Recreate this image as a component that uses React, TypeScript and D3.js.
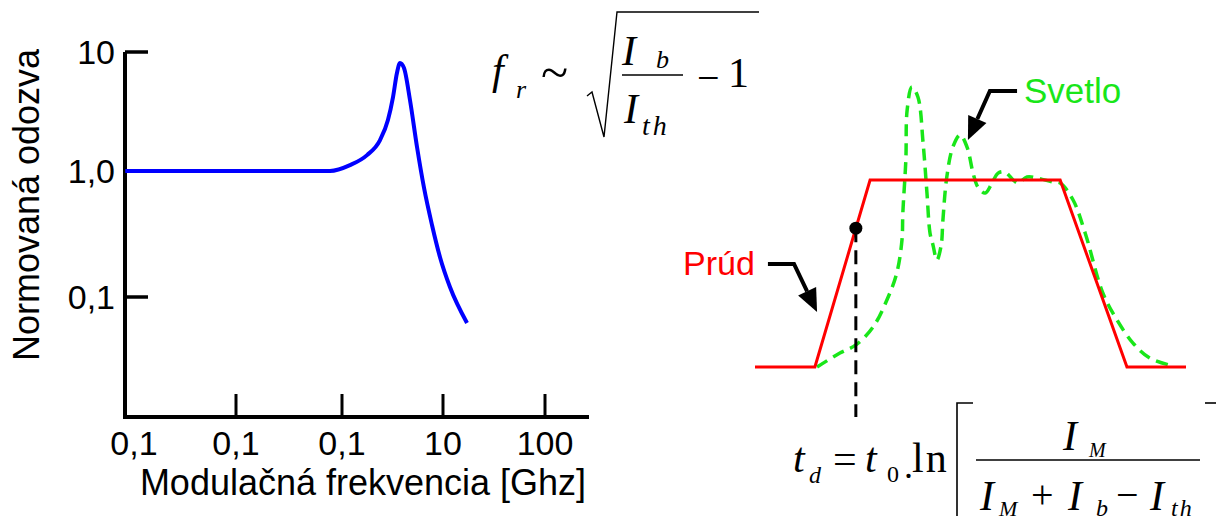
import React, { useEffect, useRef } from 'react';
import * as d3 from 'd3';

// left plot: normalised modulation response (log / log)
const respFreq = [0.0082, 0.03, 0.1, 0.35, 0.77, 1.2, 1.77, 2.38, 2.85, 3.2, 3.5, 3.75, 4.11, 4.71, 5.53, 6.49, 7.78, 9.34, 11.7, 17.2];
const respVal = [1, 1, 1, 1, 1, 1.12, 1.36, 1.82, 2.68, 4.18, 6.66, 8.09, 7.34, 3.95, 1.59, 0.733, 0.373, 0.207, 0.12, 0.0622];
const yTickVals = [10, 1, 0.1];
const yTickLabels = ['10', '1,0', '0,1'];
const xTickVals = [0.1, 1, 10, 100];
const xLabelVals = [0.01, 0.1, 1, 10, 100];
const xLabels = ['0,1', '0,1', '0,1', '10', '100'];

// right plot: current pulse and light response (arbitrary units)
const currentT = [0, 13.9, 26.7, 70.8, 86.3, 100];
const currentL = [0, 0, 1, 1, 0, 0];
const lightT = [14.4, 19.7, 23.4, 27.4, 30.6, 32.9, 34.1, 34.3, 35.0, 35.3, 36.4, 37.8, 39.0, 39.9, 40.6, 41.3, 42.2, 43.2, 43.6, 44.5, 45.9, 47.6, 49.2, 50.6, 51.7, 53.4, 55.0, 56.4, 58.0, 59.9, 61.0, 63.1, 65.4, 69.1, 70.8, 73.8, 76.6, 80.7, 84.0, 87.7, 91.6, 97.0];
const lightL = [0, 0.075, 0.118, 0.214, 0.358, 0.503, 0.679, 0.824, 1.107, 1.374, 1.497, 1.444, 1.198, 0.93, 0.717, 0.652, 0.572, 0.652, 0.786, 1.016, 1.176, 1.241, 1.176, 1.037, 0.963, 0.93, 0.984, 1.037, 1.043, 1.0, 0.984, 1.016, 1.011, 0.989, 0.984, 0.893, 0.717, 0.396, 0.251, 0.128, 0.048, 0.005];
const delayT = 23.4;
const svetloArrowT = [60.8, 54.5, 49.4];
const svetloArrowL = [1.476, 1.476, 1.214];
const prudArrowT = [3.0, 9.05, 14.4];
const prudArrowL = [0.551, 0.551, 0.294];

const SANS = '"Liberation Sans", Arial, sans-serif';
const SERIF = '"Liberation Serif", "Times New Roman", serif';
const GREEN = '#19e619';

const App = () => {
    const ref = useRef(null);

    useEffect(() => {
        const svg = d3.select(ref.current);
        svg.selectAll('*').remove();

        //---------------- left chart ----------------
        const x = d3.scaleLog().domain([0.01, 0.1, 1, 10, 100]).range([134, 236, 342, 443, 545]);
        const y = d3.scaleLog().domain([0.1, 1, 10]).range([297, 171, 52]);
        const x0 = 125, xEnd = 589, yBottom = 417;

        const left = svg.append('g');

        // axis lines
        left.append('path')
            .attr('d', `M${x0},${y(10)}V${yBottom}H${xEnd}`)
            .attr('fill', 'none').attr('stroke', '#000').attr('stroke-width', 4)
            .attr('stroke-linejoin', 'miter');

        // y ticks (pointing inwards)
        left.selectAll('.yt').data(yTickVals).enter().append('line')
            .attr('x1', x0).attr('x2', x0 + 23)
            .attr('y1', d => y(d)).attr('y2', d => y(d))
            .attr('stroke', '#000').attr('stroke-width', 3.5);
        left.selectAll('.yl').data(yTickVals).enter().append('text')
            .attr('x', x0 - 10).attr('y', d => y(d)).attr('dy', '0.36em')
            .attr('text-anchor', 'end')
            .style('font-family', SANS).style('font-size', '34px')
            .text((d, i) => yTickLabels[i]);

        // x ticks (pointing up)
        left.selectAll('.xt').data(xTickVals).enter().append('line')
            .attr('x1', d => x(d)).attr('x2', d => x(d))
            .attr('y1', yBottom).attr('y2', yBottom - 23)
            .attr('stroke', '#000').attr('stroke-width', 3);
        left.selectAll('.xl').data(xLabelVals).enter().append('text')
            .attr('x', d => x(d)).attr('y', 455)
            .attr('text-anchor', 'middle')
            .style('font-family', SANS).style('font-size', '34px')
            .text((d, i) => xLabels[i]);

        // axis titles
        left.append('text')
            .attr('x', 363).attr('y', 495).attr('text-anchor', 'middle')
            .style('font-family', SANS).style('font-size', '36px')
            .text('Modulačná frekvencia [Ghz]');
        left.append('text')
            .attr('transform', 'translate(39,205) rotate(-90)')
            .attr('text-anchor', 'middle')
            .style('font-family', SANS).style('font-size', '36px')
            .text('Normovaná odozva');

        // response curve
        const line = d3.line().x(d => x(d[0])).y(d => y(d[1])).curve(d3.curveMonotoneX);
        left.append('path')
            .datum(respFreq.map((f, i) => [f, respVal[i]]))
            .attr('d', line)
            .attr('fill', 'none').attr('stroke', '#0000ff').attr('stroke-width', 4);

        //---------------- right chart ----------------
        const t = d3.scaleLinear().domain([0, 100]).range([755, 1186]);
        const l = d3.scaleLinear().domain([0, 1]).range([367, 180]);
        const right = svg.append('g');
        const lineR = d3.line().x(d => t(d[0])).y(d => l(d[1]));

        // light (dashed green)
        right.append('path')
            .datum(lightT.map((v, i) => [v, lightL[i]]))
            .attr('d', lineR.curve(d3.curveCatmullRom.alpha(0.5)))
            .attr('fill', 'none').attr('stroke', GREEN).attr('stroke-width', 3.5)
            .attr('stroke-dasharray', '12,7');

        // current (red)
        right.append('path')
            .datum(currentT.map((v, i) => [v, currentL[i]]))
            .attr('d', d3.line().x(d => t(d[0])).y(d => l(d[1])))
            .attr('fill', 'none').attr('stroke', '#ff0000').attr('stroke-width', 3);

        // delay marker
        const delayL = d3.scaleLinear().domain([currentT[1], currentT[2]]).range([currentL[1], currentL[2]])(delayT);
        right.append('line')
            .attr('x1', t(delayT)).attr('x2', t(delayT))
            .attr('y1', l(delayL)).attr('y2', 417)
            .attr('stroke', '#000').attr('stroke-width', 3).attr('stroke-dasharray', '14,8');
        right.append('circle')
            .attr('cx', t(delayT)).attr('cy', l(delayL)).attr('r', 6.5).attr('fill', '#000');

        // arrows
        const arrow = (ts, ls) => {
            const pts = ts.map((v, i) => [t(v), l(ls[i])]);
            const [bx, by] = pts[pts.length - 2];
            const [tx, ty] = pts[pts.length - 1];
            const len = Math.hypot(tx - bx, ty - by);
            const ux = (tx - bx) / len, uy = (ty - by) / len;
            const hl = 23, hw = 10;
            const cx = tx - ux * hl, cy = ty - uy * hl;
            right.append('path')
                .attr('d', d3.line()(pts.slice(0, -1).concat([[cx, cy]])))
                .attr('fill', 'none').attr('stroke', '#000').attr('stroke-width', 4);
            right.append('path')
                .attr('d', `M${tx},${ty}L${cx - uy * hw},${cy + ux * hw}L${cx + uy * hw},${cy - ux * hw}Z`)
                .attr('fill', '#000');
        };
        arrow(svetloArrowT, svetloArrowL);
        arrow(prudArrowT, prudArrowL);

        right.append('text')
            .attr('x', 1024).attr('y', 103)
            .style('font-family', SANS).style('font-size', '35px').attr('fill', GREEN)
            .text('Svetlo');
        right.append('text')
            .attr('x', 683).attr('y', 275)
            .style('font-family', SANS).style('font-size', '34px').attr('fill', '#ff0000')
            .text('Prúd');

        //---------------- formulas ----------------
        const f = svg.append('g').style('font-family', SERIF).attr('fill', '#000');
        const tx = (xx, yy, s, size, italic = true) =>
            f.append('text').attr('x', xx).attr('y', yy)
                .style('font-size', size + 'px').style('font-style', italic ? 'italic' : 'normal')
                .text(s);

        // f_r ~ sqrt(I_b / I_th - 1)
        tx(492, 84, 'f', 42);
        tx(516, 98, 'r', 26);
        tx(541, 89, '~', 50, false);
        f.append('path').attr('d', 'M587,96L592,92L604,137L617,12H759')
            .attr('fill', 'none').attr('stroke', '#000').attr('stroke-width', 1.4);
        tx(622, 65, 'I', 42);
        tx(656, 68, 'b', 26);
        f.append('line').attr('x1', 622).attr('x2', 683).attr('y1', 75).attr('y2', 75)
            .attr('stroke', '#000').attr('stroke-width', 1.3);
        tx(624, 123, 'I', 42);
        tx(642, 135, 'th', 28).attr('letter-spacing', 3);
        tx(697, 91, '−', 40, false);
        tx(728, 87, '1', 42, false);

        // t_d = t_0 . ln [ I_M / (I_M + I_b - I_th) ]
        tx(793, 472, 't', 42);
        tx(809, 483, 'd', 24);
        tx(833, 473, '=', 42, false);
        tx(865, 472, 't', 42);
        tx(887, 482, '0', 24, false);
        tx(904, 478, '.', 36, false);
        tx(912, 472, 'ln', 42, false).attr('letter-spacing', 2);
        f.append('path').attr('d', 'M973,403H957V516')
            .attr('fill', 'none').attr('stroke', '#000').attr('stroke-width', 1.6);
        f.append('path').attr('d', 'M1205,403H1216')
            .attr('fill', 'none').attr('stroke', '#000').attr('stroke-width', 1.6);
        tx(1063, 450, 'I', 42);
        tx(1089, 457, 'M', 20);
        f.append('line').attr('x1', 976).attr('x2', 1200).attr('y1', 460).attr('y2', 460)
            .attr('stroke', '#000').attr('stroke-width', 1.3);
        tx(980, 510, 'I', 42);
        tx(999, 516, 'M', 22);
        tx(1031, 508, '+', 40, false);
        tx(1068, 510, 'I', 42);
        tx(1096, 516, 'b', 24);
        tx(1116, 508, '−', 40, false);
        tx(1150, 510, 'I', 42);
        tx(1171, 516, 'th', 24).attr('letter-spacing', 2);
    }, []);

    return (
        <svg ref={ref} width={1216} height={516}
            style={{ position: 'absolute', left: 0, top: 0, background: '#fff' }} />
    );
};

export default App;
